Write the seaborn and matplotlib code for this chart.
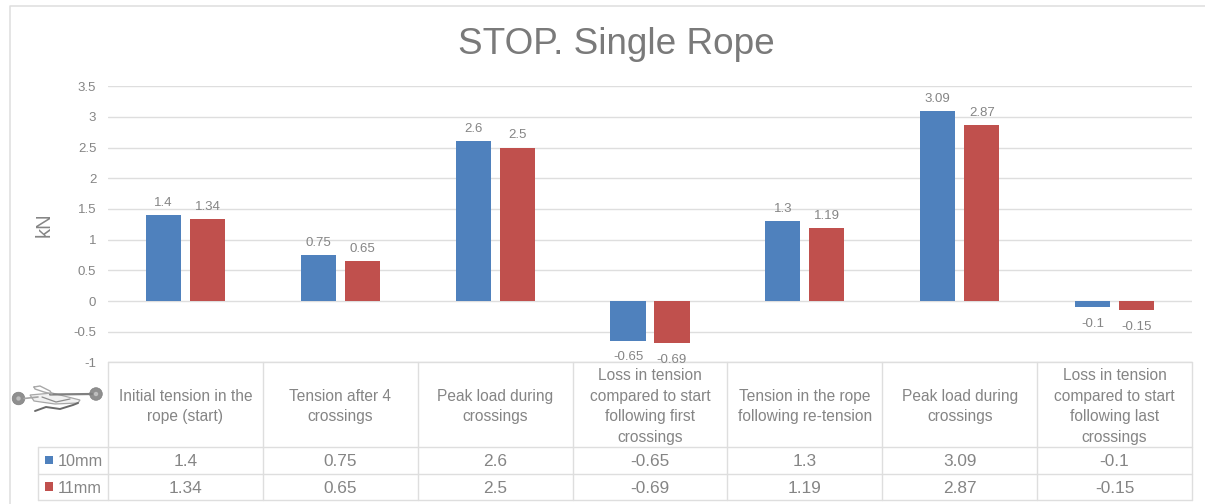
import matplotlib
matplotlib.use("Agg")
import matplotlib.pyplot as plt
from matplotlib.patches import Circle, Rectangle, Polygon
import pandas as pd
import seaborn as sns

categories = [
    "Initial tension in the\nrope (start)",
    "Tension after 4\ncrossings",
    "Peak load during\ncrossings",
    "Loss in tension\ncompared to start\nfollowing first\ncrossings",
    "Tension in the rope\nfollowing re-tension",
    "Peak load during\ncrossings",
    "Loss in tension\ncompared to start\nfollowing last\ncrossings",
]
series_names = ["10mm", "11mm"]
values_10mm = [1.4, 0.75, 2.6, -0.65, 1.3, 3.09, -0.1]
values_11mm = [1.34, 0.65, 2.5, -0.69, 1.19, 2.87, -0.15]
y_ticks = [-1, -0.5, 0, 0.5, 1, 1.5, 2, 2.5, 3, 3.5]
title_text = "STOP. Single Rope"
y_label = "kN"

BLUE = "#4f81bd"
RED = "#c0504d"
TEXT = "#858585"
RULE = "#dedede"
W, H = 1205, 504

sns.set_theme(style="white")
plt.rcParams["font.family"] = ["Liberation Sans", "DejaVu Sans"]

fig = plt.figure(figsize=(W / 100, H / 100), dpi=100, facecolor="white")

# Plot area spans the table's value columns
left, right, top, bottom = 108, 1192, 86.2, 362.4
ax = fig.add_axes([left / W, 1 - bottom / H, (right - left) / W, (bottom - top) / H])

frame = pd.DataFrame({
    "position": list(range(len(categories))) * 2,
    "series": [series_names[0]] * len(categories) + [series_names[1]] * len(categories),
    "kN": values_10mm + values_11mm,
})
sns.barplot(
    data=frame, x="position", y="kN", hue="series", hue_order=series_names,
    palette=[BLUE, RED], width=0.568, gap=0.2, saturation=1, linewidth=0,
    legend=False, ax=ax, zorder=3,
)
ax.set_xlim(-0.5, len(categories) - 0.5)
ax.set_ylim(-1, 3.5)
ax.set_yticks(y_ticks)
ax.set_yticklabels([f"{t:g}" for t in y_ticks])
ax.set_xticks([])
ax.set_xlabel("")
ax.set_ylabel("")
ax.tick_params(axis="y", length=0, pad=8.5, labelsize=9.5, labelcolor=TEXT)
ax.grid(axis="y", color=RULE, linewidth=1.0, zorder=0)
ax.set_axisbelow(True)
for spine in ax.spines.values():
    spine.set_visible(False)

# Value labels sit further from the bar end on the negative side
for container in ax.containers:
    for bar, value in zip(container, container.datavalues):
        above = value >= 0
        ax.annotate(
            f"{value:g}",
            xy=(bar.get_x() + bar.get_width() / 2, value),
            xytext=(0, 4.5 if above else -7.6), textcoords="offset points",
            ha="center", va="bottom" if above else "top",
            fontsize=9.5, color=TEXT, annotation_clip=False, zorder=6,
        )

# Overlay in pixel coordinates for the frame, table and rope-tensioner sketch
ov = fig.add_axes([0, 0, 1, 1], facecolor="none", zorder=-1)
ax.set_zorder(1)
ax.patch.set_visible(False)
ov.set_xlim(0, W)
ov.set_ylim(H, 0)
ov.axis("off")

ov.plot([10, 10, W], [H, 5.5, 5.5], color=RULE, lw=1.1)
ov.text(616, 45, title_text, ha="center", va="center", fontsize=26.6, color="#7a7a7a")
ov.text(44, 225, y_label, ha="center", va="center", rotation=90, fontsize=14.5, color=TEXT)

n = len(categories)
col_w = (right - left) / n
edges = [left + i * col_w for i in range(n + 1)]
row_top, row_head, row_a, row_b = 362, 447, 473.5, 500
label_left = 38

ov.plot([left, right], [row_top, row_top], color=RULE, lw=1.0)
ov.plot([label_left, right], [row_head, row_head], color=RULE, lw=1.0)
ov.plot([label_left, right], [row_a, row_a], color=RULE, lw=1.0)
ov.plot([label_left, right], [row_b, row_b], color=RULE, lw=1.0)
ov.plot([label_left, label_left], [row_head, row_b], color=RULE, lw=1.0)
for x in edges:
    ov.plot([x, x], [row_top, row_b], color=RULE, lw=1.0)

for i, name in enumerate(categories):
    cx = (edges[i] + edges[i + 1]) / 2
    ov.text(cx, (row_top + row_head) / 2 + 2, name, ha="center", va="center",
            fontsize=11.2, color=TEXT, linespacing=1.47)
    ov.text(cx, (row_head + row_a) / 2 + 1.7, f"{values_10mm[i]:g}", ha="center", va="center",
            fontsize=12.4, color=TEXT)
    ov.text(cx, (row_a + row_b) / 2 + 1.7, f"{values_11mm[i]:g}", ha="center", va="center",
            fontsize=12.4, color=TEXT)

for name, color, y0, y1 in [(series_names[0], BLUE, row_head, row_a),
                            (series_names[1], RED, row_a, row_b)]:
    mid = (y0 + y1) / 2
    ov.add_patch(Rectangle((44.5, mid - 4.5), 8.5, 8.5, facecolor=color, edgecolor="none"))
    ov.text(57.5, mid + 1.7, name, ha="left", va="center", fontsize=11.7, color=TEXT)

# Small rope-tensioner sketch beside the table header
ov.plot([50, 92], [394.5, 394], color="#808080", lw=1.6, solid_capstyle="round")
ov.plot([24, 38], [398.5, 397], color="#a5a5a5", lw=1.2)
ov.add_patch(Polygon([(30, 395), (52, 393), (80, 400), (78, 403), (55, 404), (34, 401)],
                     closed=True, facecolor="#f1f1f1", edgecolor="#a8a8a8", lw=0.9))
ov.plot([34, 40, 50, 52, 44, 35, 34], [387, 386, 391, 394, 392, 389, 387],
        color="#a8a8a8", lw=1.0)
ov.plot([35, 46, 60, 73, 78], [411, 407, 409, 405, 403], color="#6a6a6a", lw=1.4)
ov.plot([42, 56, 70], [397, 402, 399], color="#8d8d8d", lw=0.9)
for cx, cy in [(18.5, 398.5), (96, 394)]:
    ov.add_patch(Circle((cx, cy), 6.3, facecolor="#8f8f8f", edgecolor="#808080", lw=0.5))
    ov.add_patch(Circle((cx, cy), 2.2, facecolor="#bdbdbd", edgecolor="none"))

fig.savefig("out.png", dpi=100, facecolor="white")
